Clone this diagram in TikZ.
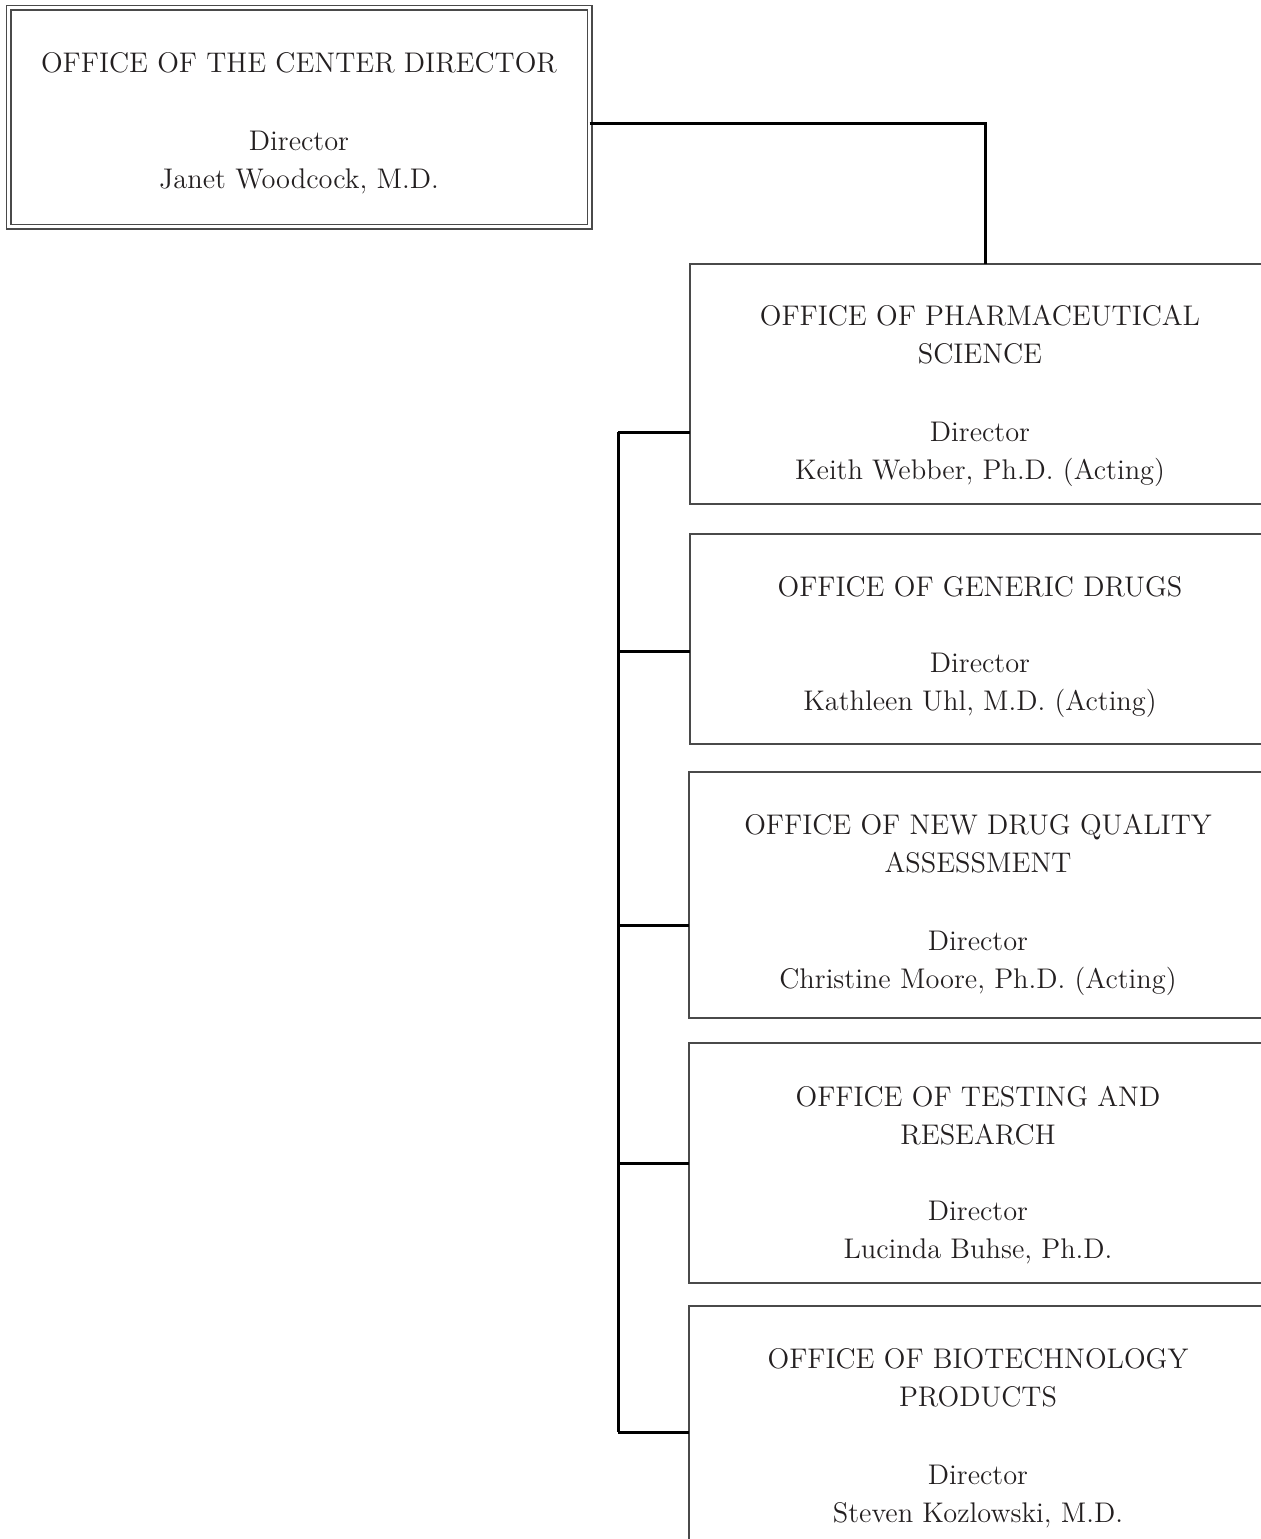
\documentclass[tikz,border=0pt]{standalone}
\usepackage{fontspec}
\definecolor{ink}{HTML}{231F20}
\definecolor{boxline}{HTML}{4A4A4A}
\begin{document}
\begin{tikzpicture}[x=0.5pt,y=-0.5pt,
  every node/.style={inner sep=0pt,outer sep=0pt},
  lbl/.style={align=center,text=ink,font=\fontsize{14.2pt}{19pt}\selectfont},
  obox/.style={draw=boxline,line width=1pt,rectangle},
  topbox/.style={draw=boxline,line width=0.7pt,double=white,double distance=1.6pt,rectangle},
  conn/.style={draw=black,line width=1.5pt,line cap=square}]
\useasboundingbox (0,0) rectangle (1261,1539);
\clip (0,0) rectangle (1261,1539);

% boxes
\node[topbox,minimum width=290.5pt,minimum height=109.5pt] (top) at (299,117) {};
\node[obox,minimum width=305pt,minimum height=120pt] (b1) at (995,384) {};
\node[obox,minimum width=305pt,minimum height=105pt] (b2) at (995,639) {};
\node[obox,minimum width=305.5pt,minimum height=123pt] (b3) at (994.5,895) {};
\node[obox,minimum width=305.5pt,minimum height=120pt] (b4) at (994.5,1163) {};
\node[obox,minimum width=305.5pt,minimum height=147pt] (b5) at (994.5,1453) {};

% texts
\node[lbl] (t0) at (299,123) {OFFICE OF THE CENTER DIRECTOR\\[20pt]Director\\Janet Woodcock, M.D.};
\node[lbl] (t1) at (980,396) {OFFICE OF PHARMACEUTICAL\\SCIENCE\\[20pt]Director\\Keith Webber, Ph.D. (Acting)};
\node[lbl] (t2) at (980,647) {OFFICE OF GENERIC DRUGS\\[19pt]Director\\Kathleen Uhl, M.D. (Acting)};
\node[lbl] (t3) at (978,904.5) {OFFICE OF NEW DRUG QUALITY\\ASSESSMENT\\[20pt]Director\\Christine Moore, Ph.D. (Acting)};
\node[lbl] (t4) at (978,1175.5) {OFFICE OF TESTING AND\\RESEARCH\\[19pt]Director\\Lucinda Buhse, Ph.D.};
\node[lbl] (t5) at (978,1438.5) {OFFICE OF BIOTECHNOLOGY\\PRODUCTS\\[20pt]Director\\Steven Kozlowski, M.D.};

% connectors
\coordinate (j) at (985,123);
\draw[conn] (top.east |- j) -- (j) -- (j |- b1.north);

\coordinate (s1) at (618,432);
\coordinate (s2) at (618,651);
\coordinate (s3) at (618,925);
\coordinate (s4) at (618,1163);
\coordinate (s5) at (618,1432);
\draw[conn] (s1) -- (s5);
\draw[conn] (s1) -- (s1 -| b1.west);
\draw[conn] (s2) -- (s2 -| b2.west);
\draw[conn] (s3) -- (s3 -| b3.west);
\draw[conn] (s4) -- (s4 -| b4.west);
\draw[conn] (s5) -- (s5 -| b5.west);
\end{tikzpicture}
\end{document}
